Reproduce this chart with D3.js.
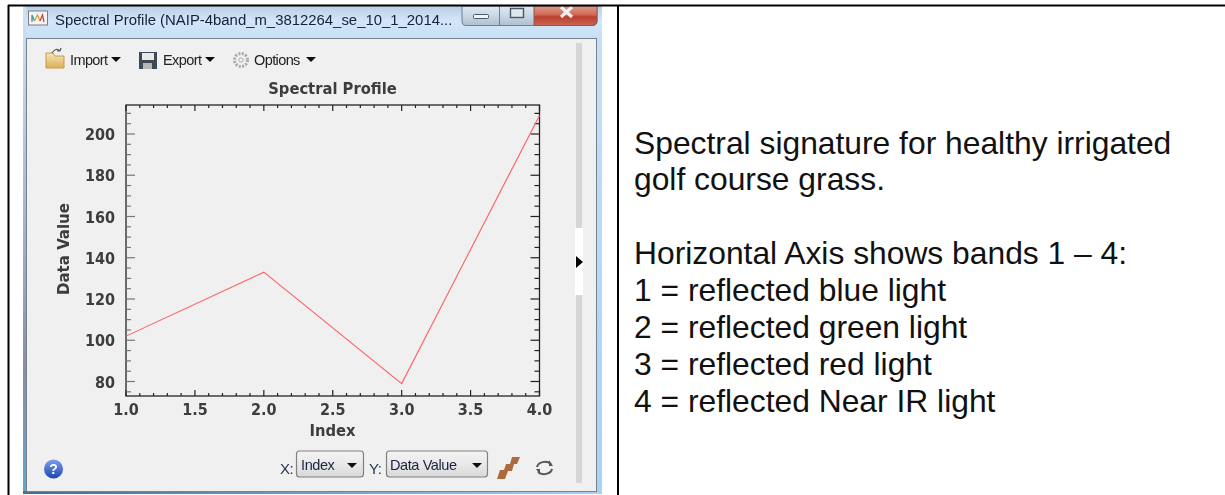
<!DOCTYPE html>
<html><head><meta charset="utf-8"><script src="https://cdn.jsdelivr.net/npm/d3@7"></script>
<style>html,body{margin:0;padding:0;background:#fff}svg{display:block}</style></head><body><div id="c"></div>
<script>
const bands=[1,2,3,4];
const dataValues=[102,133,79,209];
const xTicks=[1,1.5,2,2.5,3,3.5,4];
const yTicks=[80,100,120,140,160,180,200];
const notes=["Spectral signature for healthy irrigated","golf course grass.","","Horizontal Axis shows bands 1 – 4:","1 = reflected blue light","2 = reflected green light","3 = reflected red light","4 = reflected Near IR light"];
const W=1225,H=495;
const svg=d3.select("#c").append("svg").attr("width",W).attr("height",H);
const defs=svg.append("defs");
function grad(id,stops,x2=0,y2=1){const g=defs.append("linearGradient").attr("id",id).attr("x1",0).attr("y1",0).attr("x2",x2).attr("y2",y2);stops.forEach(s=>g.append("stop").attr("offset",s[0]).attr("stop-color",s[1]));}
grad("frame",[[0,"#b9cfe4"],[.03,"#d3e6f8"],[.07,"#c6def6"],[.5,"#b8d9f8"],[1,"#a8d2f6"]]);
grad("leftEdge",[[0,"#cfe2f2"],[.4,"#a9b8d8"],[.75,"#8d8aa8"],[1,"#5fa9c8"]]);
grad("bottomEdge",[[0,"#3f6f94"],[.5,"#6f9fc5"],[1,"#a8d2f6"]],1,0);
grad("close",[[0,"#e09a88"],[.45,"#cf6a55"],[.55,"#bb3f2e"],[1,"#c9644f"]]);
grad("btn",[[0,"#dfe9f3"],[.5,"#c9d7e5"],[1,"#aebfd0"]]);
grad("folder",[[0,"#f7e6b4"],[1,"#dcae58"]]);
grad("help",[[0,"#7b9fea"],[1,"#1c44b5"]]);
grad("combo",[[0,"#f4f4f4"],[.5,"#e9e9e9"],[1,"#d8d8d8"]]);
defs.append("filter").attr("id","soft").append("feGaussianBlur").attr("stdDeviation",.4);
const ui="'Liberation Sans',sans-serif", plotFont="'DejaVu Sans Condensed','DejaVu Sans',sans-serif";

// window chrome
svg.append("rect").attr("x",23).attr("y",6).attr("width",579).attr("height",488).attr("fill","url(#frame)");
svg.append("rect").attr("x",23).attr("y",6).attr("width",3).attr("height",488).attr("fill","url(#leftEdge)");
svg.append("rect").attr("x",23).attr("y",491).attr("width",579).attr("height",3).attr("fill","url(#bottomEdge)");
svg.append("rect").attr("x",26.5).attr("y",38.5).attr("width",570).attr("height",453).attr("fill","#f0f0f0").attr("stroke","#76828f");
// title bar
const tbar=svg.append("g").attr("filter","url(#soft)");
tbar.append("rect").attr("x",28.5).attr("y",11).attr("width",19).attr("height",14).attr("fill","#f4f4f4").attr("stroke","#7d7d7d");
tbar.append("path").attr("d","M32 22V15L34.5 21").attr("fill","none").attr("stroke","#2f9aa8").attr("stroke-width",1.3);
tbar.append("path").attr("d","M34.5 21L37.5 15L40 21").attr("fill","none").attr("stroke","#d6a02f").attr("stroke-width",1.3);
tbar.append("path").attr("d","M40 21L42.5 15L44 22").attr("fill","none").attr("stroke","#c04a4a").attr("stroke-width",1.3);
tbar.append("text").attr("x",55).attr("y",24.5).attr("font-family",ui).attr("font-size",14.9).attr("fill","#14213a").text("Spectral Profile (NAIP-4band_m_3812264_se_10_1_2014...");
tbar.append("path").attr("d","M462 6V21Q462 25.5 466 25.5H592Q597 25.5 597 21V6Z").attr("fill","url(#btn)").attr("stroke","#6f7f92");
tbar.append("path").attr("d","M534 6V25.5H592Q597 25.5 597 21V6Z").attr("fill","url(#close)").attr("stroke","#8f5a50");
tbar.append("line").attr("x1",499.5).attr("x2",499.5).attr("y1",6).attr("y2",25).attr("stroke","#6f7f92");
tbar.append("rect").attr("x",473.5).attr("y",14.5).attr("width",15).attr("height",4).attr("rx",1).attr("fill","#f2f5f8").attr("stroke","#4c5a68");
tbar.append("rect").attr("x",510.5).attr("y",8.5).attr("width",13).attr("height",9).attr("fill","#dfe7ef").attr("stroke","#4c5a68").attr("stroke-width",1.4);
tbar.append("path").attr("d","M561 7L572 17M572 7L561 17").attr("stroke","#eef0f2").attr("stroke-width",3.2);

// toolbar
const tb=svg.append("g").attr("filter","url(#soft)");
tb.append("path").attr("d","M46 53H53L55 56H64V68H46Z").attr("fill","url(#folder)").attr("stroke","#c49a4e");
tb.append("path").attr("d","M52 53Q56 47 60 51M60 51l1 -3M60 51l-3 0").attr("fill","none").attr("stroke","#555").attr("stroke-width",1.2);
tb.append("rect").attr("x",139).attr("y",52).attr("width",18).attr("height",17).attr("fill","#3d4a55");
tb.append("rect").attr("x",142).attr("y",53).attr("width",12).attr("height",7).attr("fill","#e8e8e8");
tb.append("rect").attr("x",143).attr("y",63).attr("width",9).attr("height",6).attr("fill","#b8b8b8");
tb.append("circle").attr("cx",241).attr("cy",60).attr("r",6.5).attr("fill","none").attr("stroke","#a9a9a9").attr("stroke-width",3).attr("stroke-dasharray","2 1.4");
tb.append("circle").attr("cx",241).attr("cy",60).attr("r",2.2).attr("fill","none").attr("stroke","#a9a9a9");
const tools=[["Import",70,111],["Export",163,205],["Options",254,306]];
tools.forEach(t=>{
 tb.append("text").attr("x",t[1]).attr("y",65).attr("font-family",ui).attr("font-size",14.5).attr("letter-spacing",-.6).attr("fill","#222").text(t[0]);
 tb.append("path").attr("d",`M${t[2]} 57h10l-5 5z`).attr("fill","#111");
});

// scrollbar strip
svg.append("rect").attr("x",576).attr("y",43).attr("width",6).attr("height",440).attr("fill","#d6d6d6");
svg.append("rect").attr("x",575).attr("y",228).attr("width",8).attr("height",67).attr("fill","#fff");
svg.append("path").attr("d","M576 256L583 262L576 268Z").attr("fill","#000");

// plot
const x=d3.scaleLinear().domain([1,4]).range([126,539.5]);
const y=d3.scaleLinear().domain([80,200]).range([381.5,134]);
const yMin=y.invert(396), yMax=y.invert(105);
y.domain([yMin,yMax]).range([396,105]);
const g=svg.append("g").attr("filter","url(#soft)");
g.append("rect").attr("x",x(1)).attr("y",y(yMax)).attr("width",x(4)-x(1)).attr("height",y(yMin)-y(yMax)).attr("fill","#f0f0f0").attr("stroke","#222").attr("stroke-width",1.3);
const xMinor=d3.range(1,4.001,.1), yMinor=d3.range(75,yMax,5);
const ax=svg.append("g").attr("stroke","#222").attr("stroke-width",1.2).attr("filter","url(#soft)");
const isMajor=(v,arr)=>arr.some(a=>Math.abs(a-v)<1e-6);
ax.selectAll(".xb").data(xMinor).join("line").attr("x1",d=>x(d)).attr("x2",d=>x(d)).attr("y1",396).attr("y2",d=>396-(isMajor(d,xTicks)?6:3));
ax.selectAll(".xt").data(xMinor).join("line").attr("x1",d=>x(d)).attr("x2",d=>x(d)).attr("y1",105).attr("y2",d=>105+(isMajor(d,xTicks)?6:3));
ax.selectAll(".yl").data(yMinor).join("line").attr("y1",d=>y(d)).attr("y2",d=>y(d)).attr("x1",126).attr("x2",d=>126+(isMajor(d,yTicks)?9:5)).attr("stroke","#777");
ax.selectAll(".yr").data(yMinor).join("line").attr("y1",d=>y(d)).attr("y2",d=>y(d)).attr("x1",539.5).attr("x2",d=>539.5-(isMajor(d,yTicks)?9:5));
const line=d3.line().x((d,i)=>x(bands[i])).y(d=>y(d));
svg.append("path").attr("d",line(dataValues)).attr("fill","none").attr("stroke","#ff5f66").attr("stroke-width",1.1);
const lab=svg.append("g").attr("font-family",plotFont).attr("font-weight","bold").attr("fill","#3c3c3c").attr("filter","url(#soft)");
lab.selectAll(".xl").data(xTicks).join("text").attr("x",d=>x(d)).attr("y",415).attr("text-anchor","middle").attr("font-size",16).text(d=>d3.format(".1f")(d));
lab.selectAll(".yl").data(yTicks).join("text").attr("x",115).attr("y",d=>y(d)+6).attr("text-anchor","end").attr("font-size",16).text(d=>d);
lab.append("text").attr("x",332.5).attr("y",94).attr("text-anchor","middle").attr("font-size",16.4).text("Spectral Profile");
lab.append("text").attr("x",332.5).attr("y",436).attr("text-anchor","middle").attr("font-size",16.4).text("Index");
lab.append("text").attr("transform","translate(69,249) rotate(-90)").attr("text-anchor","middle").attr("font-size",16.7).text("Data Value");

// bottom controls
const bc=svg.append("g").attr("filter","url(#soft)");
bc.append("circle").attr("cx",53.5).attr("cy",469).attr("r",9.5).attr("fill","url(#help)");
bc.append("text").attr("x",53.5).attr("y",474).attr("text-anchor","middle").attr("font-family",ui).attr("font-weight","bold").attr("font-size",14).attr("fill","#fff").text("?");
[["X:",280,296,67,"Index",301,347],["Y:",369,386,101,"Data Value",390,472]].forEach(s=>{
 bc.append("text").attr("x",s[1]).attr("y",474).attr("font-family",ui).attr("font-size",15).attr("letter-spacing",-.5).attr("fill","#2a3550").text(s[0]);
 bc.append("rect").attr("x",s[2]+.5).attr("y",451).attr("width",s[3]).attr("height",26).attr("rx",3).attr("fill","url(#combo)").attr("stroke","#808080").attr("stroke-width",1.2);
 bc.append("text").attr("x",s[5]).attr("y",469.5).attr("font-family",ui).attr("font-size",14.5).attr("letter-spacing",-.4).attr("fill","#1c2440").text(s[4]);
 bc.append("path").attr("d",`M${s[6]} 463h10l-5 5z`).attr("fill","#111");
});
bc.append("path").attr("d","M497 479L500 470H504L506 464H510L512 457H520L517 464H514L512 471H508L505 479Z").attr("fill","#ad6a3e");
bc.append("path").attr("d","M537 467A8 6 0 0 1 551 464M552 469A8 6 0 0 1 538 472").attr("fill","none").attr("stroke","#555").attr("stroke-width",2);
bc.append("path").attr("d","M549 460V466H553ZM540 475V469H536Z").attr("fill","#555");

// right text
svg.append("g").selectAll("text").data(notes).join("text").attr("x",634).attr("y",(d,i)=>153.5+i*36.9).attr("font-family",ui).attr("font-size",31.8).attr("fill","#111").text(d=>d);

// table borders
svg.append("line").attr("x1",8).attr("x2",W).attr("y1",5.5).attr("y2",5.5).attr("stroke","#000").attr("stroke-width",2);
svg.append("line").attr("x1",8.5).attr("x2",8.5).attr("y1",5).attr("y2",H).attr("stroke","#000").attr("stroke-width",2);
svg.append("line").attr("x1",618).attr("x2",618).attr("y1",5).attr("y2",H).attr("stroke","#000").attr("stroke-width",2);
</script></body></html>
